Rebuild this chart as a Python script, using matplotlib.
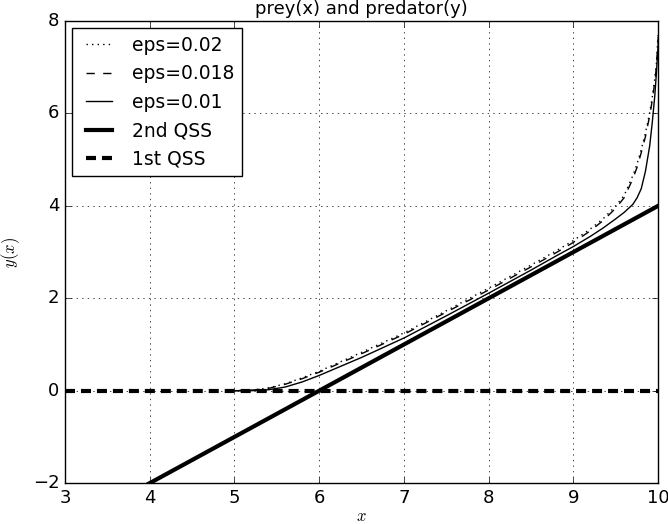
import numpy as np
import matplotlib
matplotlib.use("Agg")
import matplotlib.pyplot as plt

plt.style.use("classic")

# values
x = [5.0, 5.2, 5.4, 5.6, 5.8, 6.0, 6.5, 7.0, 7.5, 8.0, 8.5, 8.8, 9.0, 9.2,
     9.35, 9.5, 9.6, 9.7, 9.75, 9.8, 9.85, 9.9, 9.93, 9.96, 9.98, 10.0]
y_eps002 = [0.0, 0.01, 0.06, 0.15, 0.28, 0.42, 0.83, 1.25, 1.73, 2.22, 2.72, 3.03,
            3.25, 3.5, 3.72, 4.0, 4.23, 4.65, 4.9, 5.22, 5.58, 6.02, 6.35, 6.75,
            7.1, 7.75]
y_eps0018 = [0.0, 0.01, 0.05, 0.14, 0.26, 0.40, 0.80, 1.22, 1.70, 2.18, 2.68, 2.99,
             3.21, 3.46, 3.68, 3.95, 4.18, 4.58, 4.83, 5.15, 5.5, 5.95, 6.28, 6.68,
             7.02, 7.65]
y_eps001 = [0.0, 0.0, 0.02, 0.08, 0.19, 0.33, 0.72, 1.14, 1.62, 2.11, 2.61, 2.92,
            3.12, 3.34, 3.52, 3.72, 3.86, 4.03, 4.17, 4.37, 4.75, 5.3, 5.8, 6.38,
            6.9, 7.5]

qss_x = [3, 10]
qss2_y = [-3, 4]
qss1_y = [0, 0]

fig = plt.figure(figsize=(6.68, 5.24), dpi=100, facecolor="white")
ax = fig.add_axes([0.0973, 0.078, 0.888, 0.882])

ax.plot(x, y_eps002, "k:", lw=1, label="eps=0.02")
ax.plot(x, y_eps0018, "k--", lw=1, label="eps=0.018")
ax.plot(x, y_eps001, "k-", lw=1, label="eps=0.01")
ax.plot(qss_x, qss2_y, "k-", lw=3, label="2nd QSS")
ax.plot(qss_x, qss1_y, "k--", lw=3, dashes=(7.2, 4.3), label="1st QSS")

ax.set_xlim(3, 10)
ax.set_ylim(-2, 8)
ax.grid(True)
ax.tick_params(labelsize=13)
ax.set_title("prey(x) and predator(y)", fontsize=13)
ax.set_xlabel("$x$", fontsize=12, labelpad=0)
ax.set_ylabel("$y(x)$", fontsize=12, labelpad=8)
ax.legend(loc="upper left", fontsize=13.5, borderaxespad=0.4)

fig.savefig("out.png", dpi=100, facecolor="white")
